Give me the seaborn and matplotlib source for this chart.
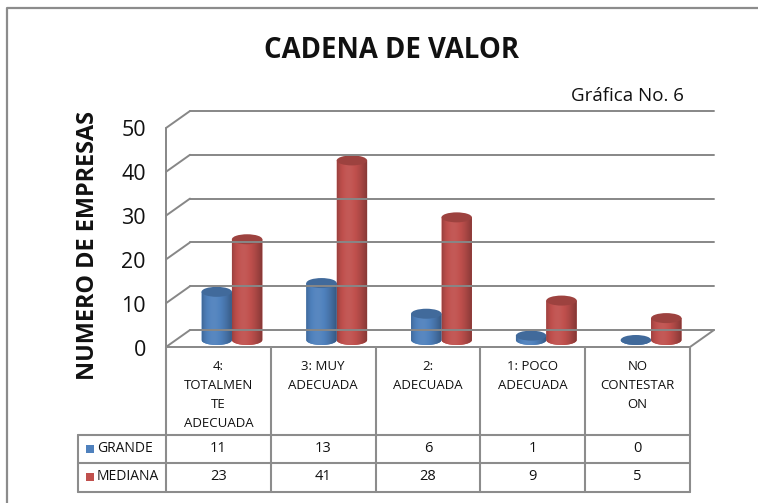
import numpy as np
import pandas as pd
import matplotlib
matplotlib.use("Agg")
import matplotlib.pyplot as plt
import seaborn as sns
from matplotlib.transforms import ScaledTranslation, blended_transform_factory
from matplotlib.patches import Ellipse, Rectangle, PathPatch
from matplotlib.path import Path
from matplotlib.lines import Line2D

# ---------------- data ----------------
categories = ["4:\nTOTALMEN\nTE\nADECUADA", "3: MUY\nADECUADA", "2:\nADECUADA",
              "1: POCO\nADECUADA", "NO\nCONTESTAR\nON"]
series_names = ["GRANDE", "MEDIANA"]
grande = [11, 13, 6, 1, 0]
mediana = [23, 41, 28, 9, 5]
y_ticks = [0, 10, 20, 30, 40, 50]
title = "CADENA DE VALOR"
subtitle = "Gráfica No. 6"
y_label = "NUMERO DE EMPRESAS"

BLUE = "#4F81BD"
RED = "#C0504D"
GRID = "#878787"

sns.set_theme(style="white")
plt.rcParams["font.family"] = ["Open Sans", "DejaVu Sans"]

W, H, DPI = 758, 503, 100
fig = plt.figure(figsize=(W / DPI, H / DPI), dpi=DPI)
fig.patch.set_facecolor("white")


def fx(px):
    return px / W


def fy(py):
    return 1 - py / H


# outer frame (cut at right & bottom)
fig.add_artist(Line2D([fx(7), fx(7), 1.0], [0.0, fy(8), fy(8)],
                      transform=fig.transFigure, color="#8C8C8C", lw=1.6))

# front plane axes
ax = fig.add_axes([fx(166), fy(347), fx(690) - fx(166), fy(128) - fy(347)])

df = pd.DataFrame({
    "cat": categories * 2,
    "serie": [series_names[0]] * 5 + [series_names[1]] * 5,
    "value": grande + mediana,
})
sns.barplot(data=df, x="cat", y="value", hue="serie", order=categories,
            hue_order=series_names, palette=[BLUE, RED], width=0.58, gap=0,
            saturation=1, errorbar=None, legend=False, ax=ax)
ax.set_xlim(-0.5, len(categories) - 0.5)
ax.set_ylim(0, 50)
ax.axis("off")

back = ax.transData + ScaledTranslation(24 / DPI, 17 / DPI, fig.dpi_scale_trans)
mid = ax.transData + ScaledTranslation(13.5 / DPI, 7 / DPI, fig.dpi_scale_trans)
front = ax.transData
to_fig = fig.transFigure.inverted()


def seg(t1, p1, t2, p2, **kw):
    a = to_fig.transform(t1.transform(p1))
    b = to_fig.transform(t2.transform(p2))
    fig.add_artist(Line2D([a[0], b[0]], [a[1], b[1]], transform=fig.transFigure,
                          **kw))


x0, x1 = -0.5, len(categories) - 0.5
lk = dict(color=GRID, lw=1.4, zorder=0.5)
# back wall gridlines
for v in y_ticks:
    seg(back, (x0, v), back, (x1, v), **lk)
    seg(front, (x0, v), back, (x0, v), **lk)
# front axis & floor
seg(front, (x0, 0), front, (x0, 50), **lk)
seg(front, (x0, 0), front, (x1, 0), **lk)
seg(front, (x1, 0), back, (x1, 0), **lk)

# y tick labels
for v in y_ticks:
    ax.text(x0, v, str(v), transform=front + ScaledTranslation(-20 / DPI, -3 / DPI, fig.dpi_scale_trans),
            ha="right", va="center", fontsize=15.5, color="#111111", clip_on=False)

# cylinders
px_per_unit = ax.transData.transform((0, 1))[1] - ax.transData.transform((0, 0))[1]
eh = 10.0 / px_per_unit


def shade(c, f):
    c = np.array(matplotlib.colors.to_rgb(c))
    if f >= 1:
        return tuple(np.clip(c + (1 - c) * (f - 1), 0, 1))
    return tuple(c * f)


tt = np.linspace(0, 1, 64)
prof = 0.80 + 0.26 * np.sin(np.pi * np.clip(tt, 0, 1) ** 0.75) - 0.12 * tt ** 3

for p in list(ax.patches):
    x, w, h = p.get_x(), p.get_width(), p.get_height()
    base = p.get_facecolor()[:3]
    p.set_transform(mid)
    p.set_visible(False)
    cx = x + w / 2
    t = np.linspace(np.pi, 2 * np.pi, 40)
    verts = [(cx + w / 2 * np.cos(a), eh / 2 * np.sin(a)) for a in t]
    verts += [(x + w, h), (x, h), verts[0]]
    codes = [Path.MOVETO] + [Path.LINETO] * (len(verts) - 2) + [Path.CLOSEPOLY]
    sil = PathPatch(Path(verts, codes), transform=mid, fc=base, ec="none",
                    zorder=2, clip_on=False)
    ax.add_patch(sil)
    grad = np.array([[shade(base, f) for f in prof]])
    im = ax.imshow(grad, extent=[x, x + w, -eh, h + 0.01], aspect="auto",
                   interpolation="bilinear", zorder=2.1, transform=mid)
    im.set_clip_path(sil)
    cap = Ellipse((cx, h), w, eh, transform=mid, fc=shade(base, 0.82),
                  ec="none", zorder=2.3, clip_on=False)
    ax.add_patch(cap)

ax.set_xlim(-0.5, len(categories) - 0.5)
ax.set_ylim(0, 50)
ax.set_aspect("auto")

# table
bl = blended_transform_factory(ax.transData, fig.transFigure)
tk = dict(color="#8C8C8C", lw=1.5)
for i in range(len(categories) + 1):
    xv = i - 0.5
    fig.add_artist(Line2D([xv, xv], [fy(347), fy(492)], transform=bl, **tk))
for py in (435, 463, 492):
    fig.add_artist(Line2D([fx(78), fx(690)], [fy(py), fy(py)],
                          transform=fig.transFigure, **tk))
fig.add_artist(Line2D([fx(78), fx(78)], [fy(435), fy(492)],
                      transform=fig.transFigure, **tk))

for i, c in enumerate(categories):
    fig.text(i, fy(360), c, transform=bl, ha="center", va="top", fontsize=9.5,
             linespacing=1.6, color="#111111")
for row, (vals, col, py) in enumerate([(grande, BLUE, 449), (mediana, RED, 477)]):
    for i, v in enumerate(vals):
        fig.text(i, fy(py), str(v), transform=bl, ha="center", va="center",
                 fontsize=10.5, color="#111111")
    fig.add_artist(Rectangle((fx(86), fy(py + 4)), fx(8), 8 / H,
                             transform=fig.transFigure, fc=col, ec="none"))
    fig.text(fx(97), fy(py), series_names[row], ha="left", va="center",
             fontsize=10, color="#111111")

# titles
fig.text(fx(391), fy(51), title, ha="center", va="center", fontsize=19.8,
         fontweight="bold", color="#111111")
fig.text(fx(627), fy(96), subtitle, ha="center", va="center", fontsize=13.5,
         color="#111111")
fig.text(fx(88), fy(245), y_label, ha="center", va="center", rotation=90,
         fontsize=16.8, fontweight="bold", color="#111111")

fig.savefig("out.png", dpi=DPI, facecolor="white")
